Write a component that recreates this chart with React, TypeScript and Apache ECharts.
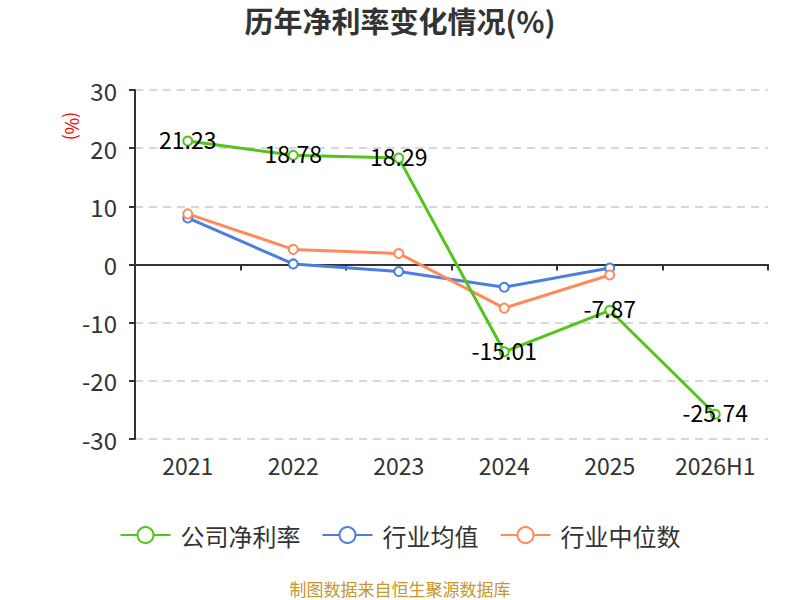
import React, { useEffect, useRef } from "react";
import * as echarts from "echarts";

const categories = ["2021", "2022", "2023", "2024", "2025", "2026H1"];
const companyValues = [21.23, 18.78, 18.29, -15.01, -7.87, -25.74];
const industryAvg = [8.0, 0.1, -1.2, -3.9, -0.6, null];
const industryMedian = [8.7, 2.6, 1.9, -7.5, -1.8, null];
const yTicks = { min: -30, max: 30, interval: 10 };

const FONT = "'Noto Sans CJK SC', 'Noto Sans', sans-serif";

export default function App() {
  const ref = useRef<HTMLDivElement>(null);
  useEffect(() => {
    if (!ref.current) return;
    const chart = echarts.init(ref.current, undefined, { renderer: "svg" });
    const mkSeries = (name: string, data: any[], color: string, label: boolean) => ({
      name,
      type: "line",
      data,
      symbol: "emptyCircle",
      symbolSize: 9,
      showAllSymbol: true,
      lineStyle: { width: 3, color },
      itemStyle: { color, borderWidth: 1.5 },
      label: label
        ? {
            show: true,
            position: "inside",
            offset: [0, -2],
            color: "#000",
            fontSize: 23,
            fontFamily: FONT,
          }
        : { show: false },
      z: label ? 3 : 2,
    });
    chart.setOption({
      animation: false,
      title: {
        text: "历年净利率变化情况(%)",
        left: "center",
        top: 0,
        textStyle: { fontSize: 29, fontWeight: "bold", color: "#333", fontFamily: FONT },
      },
      legend: {
        top: 518,
        left: "center",
        itemWidth: 50,
        itemHeight: 20,
        itemGap: 21,
        textStyle: { fontSize: 24, color: "#333", fontFamily: FONT, padding: [0, 0, 0, 5] },
        data: ["公司净利率", "行业均值", "行业中位数"],
      },
      grid: {
        left: 135,
        right: 32,
        top: 90,
        bottom: 161,
        containLabel: false,
        outerBoundsMode: "none",
      },
      xAxis: {
        type: "category",
        data: categories,
        boundaryGap: true,
        axisLine: { onZero: true, lineStyle: { color: "#333", width: 2 } },
        axisTick: { show: true, length: 6, lineStyle: { color: "#333", width: 2 } },
        axisLabel: {
          fontSize: 23,
          color: "#333",
          fontFamily: FONT,
          margin: 14,
        },
      },
      yAxis: {
        type: "value",
        min: yTicks.min,
        max: yTicks.max,
        interval: yTicks.interval,
        axisLine: { show: true, lineStyle: { color: "#333", width: 2 } },
        axisTick: { show: true, length: 6, lineStyle: { color: "#333", width: 2 } },
        axisLabel: { fontSize: 24, color: "#333", fontFamily: FONT, margin: 18 },
        splitLine: { show: true, lineStyle: { type: [8, 6], color: "#ccc", width: 1.5 } },
      },
      graphic: [
        {
          type: "text",
          x: 73,
          y: 126,
          rotation: -Math.PI / 2,
          style: {
            text: "(%)",
            fill: "#ff0000",
            fontSize: 18,
            fontFamily: FONT,
            textAlign: "center",
            textVerticalAlign: "middle",
          },
        },
        {
          type: "text",
          x: 400,
          y: 588,
          style: {
            text: "制图数据来自恒生聚源数据库",
            fill: "#c8962a",
            fontSize: 17,
            fontFamily: FONT,
            textAlign: "center",
            textVerticalAlign: "middle",
          },
        },
      ],
      series: [
        mkSeries("公司净利率", companyValues, "#52c41a", true),
        mkSeries("行业均值", industryAvg, "#4a7ee0", false),
        mkSeries("行业中位数", industryMedian, "#ff8a5b", false),
      ],
    });
    return () => chart.dispose();
  }, []);
  return (
    <div
      ref={ref}
      style={{ width: 800, height: 600, position: "absolute", left: 0, top: 0 }}
    />
  );
}
